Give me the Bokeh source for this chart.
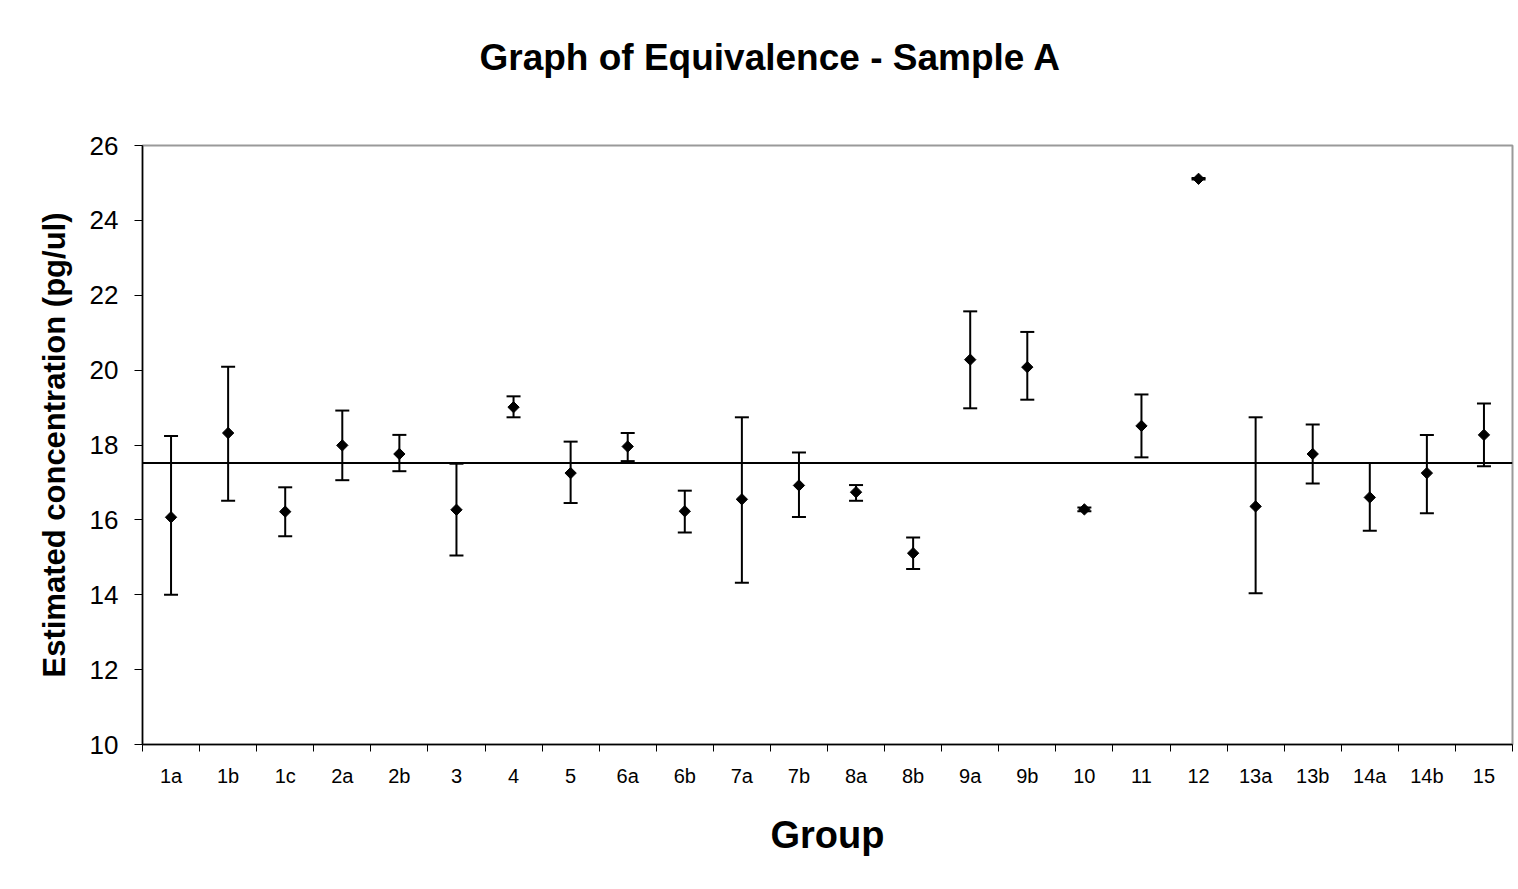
import math
from bokeh.plotting import figure
from bokeh.models import (ColumnDataSource, Range1d, FixedTicker, Whisker, TeeHead,
                          Span, CustomJSTickFormatter)
from bokeh.embed import file_html
from bokeh.resources import INLINE

# ---------------- data ----------------
title_text = "Graph of Equivalence - Sample A"
x_title = "Group"
y_title = "Estimated concentration (pg/ul)"

groups = ["1a", "1b", "1c", "2a", "2b", "3", "4", "5", "6a", "6b", "7a", "7b",
          "8a", "8b", "9a", "9b", "10", "11", "12", "13a", "13b", "14a", "14b", "15"]
means = [16.07, 18.32, 16.22, 17.99, 17.76, 16.27, 19.01, 17.25, 17.96, 16.23, 16.55, 16.92,
         16.74, 15.11, 20.28, 20.08, 16.28, 18.51, 25.11, 16.36, 17.76, 16.60, 17.25, 18.27]
upper = [18.24, 20.09, 16.87, 18.92, 18.27, 17.50, 19.30, 18.09, 18.32, 16.78, 18.74, 17.80,
         16.93, 15.53, 21.57, 21.02, 16.33, 19.35, 25.13, 18.74, 18.55, 17.52, 18.27, 19.11]
lower = [14.00, 16.51, 15.56, 17.06, 17.30, 15.05, 18.74, 16.45, 17.57, 15.66, 14.32, 16.08,
         16.51, 14.69, 18.98, 19.21, 16.23, 17.67, 25.09, 14.04, 16.97, 15.71, 16.18, 17.43]
reference_value = 17.52
y_ticks = [10, 12, 14, 16, 18, 20, 22, 24, 26]

FONT = "Liberation Sans"

# category slots: group i occupies [i, i+1] on the x scale
centers = [i + 0.5 for i in range(len(groups))]
bounds = list(range(len(groups) + 1))

source = ColumnDataSource(dict(x=centers, group=groups, mean=means, upper=upper, lower=lower))

p = figure(width=1518, height=889,
           x_range=Range1d(0, len(groups)), y_range=Range1d(10, 26),
           output_backend="svg", toolbar_location=None,
           min_border_left=142, min_border_right=6,
           min_border_top=145, min_border_bottom=145)

# title (trailing empty line lifts it towards the top of the chart area)
p.title.text = title_text + "\n"
p.title.align = "left"
p.title.offset = 337
p.title.standoff = 54
p.title.text_font = FONT
p.title.text_font_style = "bold"
p.title.text_font_size = "37px"
p.title.text_color = "black"

p.xgrid.grid_line_color = None
p.ygrid.grid_line_color = None
p.outline_line_color = "#9a9a9a"
p.outline_line_width = 2
p.background_fill_color = "white"
p.border_fill_color = "white"

# x axis: labels at slot centres, tick marks at slot boundaries (Excel style)
xa = p.xaxis[0]
xa.ticker = FixedTicker(ticks=centers, minor_ticks=bounds)
xa.formatter = CustomJSTickFormatter(args=dict(labels=groups),
                                     code="const i = Math.floor(tick); return (i >= 0 && i < labels.length) ? labels[i] : '';")
xa.axis_line_color = "black"
xa.axis_line_width = 1.5
xa.major_tick_line_color = None
xa.major_tick_in = 0
xa.major_tick_out = 7
xa.minor_tick_line_color = "black"
xa.minor_tick_line_width = 1
xa.minor_tick_in = 0
xa.minor_tick_out = 7
xa.major_label_text_font = FONT
xa.major_label_text_font_size = "20px"
xa.major_label_text_color = "black"
xa.major_label_standoff = 13
xa.axis_label = x_title
xa.axis_label_text_font = FONT
xa.axis_label_text_font_style = "bold"
xa.axis_label_text_font_size = "38px"
xa.axis_label_text_color = "black"
xa.axis_label_standoff = 24

# y axis
ya = p.yaxis[0]
ya.ticker = FixedTicker(ticks=y_ticks, minor_ticks=[])
ya.axis_label = y_title
ya.axis_label_text_font = FONT
ya.axis_label_text_font_style = "bold"
ya.axis_label_text_font_size = "31px"
ya.axis_label_text_color = "black"
ya.axis_label_standoff = 15
ya.major_label_text_font = FONT
ya.major_label_text_font_size = "26px"
ya.major_label_text_color = "black"
ya.major_label_standoff = 16
ya.major_tick_in = 0
ya.major_tick_out = 8
ya.major_tick_line_color = "black"
ya.minor_tick_line_color = None
ya.axis_line_color = "black"
ya.axis_line_width = 1.5

# reference line
p.add_layout(Span(location=reference_value, dimension="width",
                  line_color="black", line_width=2))

# error bars
p.add_layout(Whisker(source=source, base="x", upper="upper", lower="lower",
                     line_color="black", line_width=2,
                     upper_head=TeeHead(size=14, line_color="black", line_width=2),
                     lower_head=TeeHead(size=14, line_color="black", line_width=2)))

# points
p.scatter(x="x", y="mean", source=source, marker="square", angle=math.pi / 4,
          size=8, fill_color="black", line_color="black", line_width=1)

open("out.html", "w").write(file_html(p, INLINE))
